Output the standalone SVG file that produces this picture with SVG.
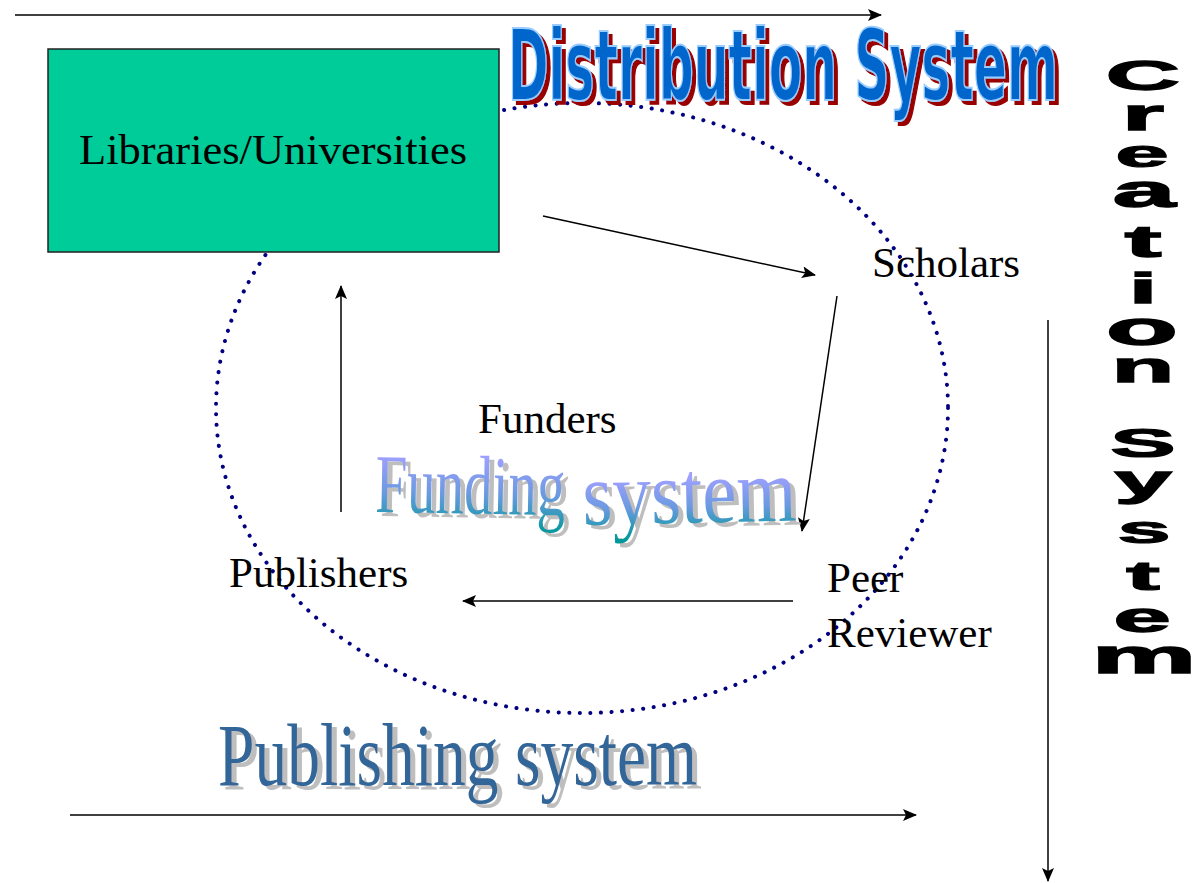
<svg xmlns="http://www.w3.org/2000/svg" width="1203" height="883" viewBox="0 0 1203 883">
<style>
.lbl{font-family:"Liberation Serif","Times New Roman",serif;font-size:43px;fill:#000}
.conn{stroke:#000;stroke-width:1.5;fill:none}
.cs{font-family:"Liberation Sans",Arial,sans-serif;font-weight:900;font-size:30px;fill:#000;stroke:#000;stroke-width:0.9;text-anchor:middle}
.wa{font-family:"Liberation Serif","Times New Roman",serif}
.ds{font-family:"Liberation Sans Narrow","DejaVu Sans Condensed","Liberation Sans",sans-serif;font-weight:bold;font-size:54px}
</style>
<defs>
<marker id="ah" markerUnits="userSpaceOnUse" markerWidth="14" markerHeight="12" refX="13" refY="6" orient="auto">
<path d="M0,0 L14,6 L0,12 L3,6 Z" fill="#000"/>
</marker>
<linearGradient id="fundGrad" gradientUnits="userSpaceOnUse" x1="0" y1="-36" x2="0" y2="12">
<stop offset="0" stop-color="#A0A0FF"/>
<stop offset="0.5" stop-color="#6A9AE0"/>
<stop offset="1" stop-color="#009999"/>
</linearGradient>
<filter id="shRed" x="-5%" y="-20%" width="115%" height="150%">
<feOffset in="SourceAlpha" dx="4" dy="4" result="o"/>
<feFlood flood-color="#990000"/>
<feComposite in2="o" operator="in" result="s"/>
<feMerge><feMergeNode in="s"/><feMergeNode in="SourceGraphic"/></feMerge>
</filter>
<filter id="shGrey" x="-5%" y="-20%" width="115%" height="150%">
<feOffset in="SourceAlpha" dx="5" dy="4" result="o"/>
<feFlood flood-color="#BEBEBE"/>
<feComposite in2="o" operator="in" result="s"/>
<feMerge><feMergeNode in="s"/><feMergeNode in="SourceGraphic"/></feMerge>
</filter>
</defs>
<rect width="1203" height="883" fill="#fff"/>

<g id="cycle">
<ellipse cx="582" cy="408" rx="366" ry="305" fill="none" stroke="#000080" stroke-width="4" stroke-dasharray="0.1 10.5" stroke-linecap="round"/>
</g>

<g id="connectors">
<line class="conn" x1="15" y1="15" x2="881" y2="15" marker-end="url(#ah)"/>
<line class="conn" x1="70" y1="815" x2="916" y2="815" marker-end="url(#ah)"/>
<line class="conn" x1="1048" y1="320" x2="1048" y2="881" marker-end="url(#ah)"/>
<line class="conn" x1="543" y1="216" x2="815" y2="275" marker-end="url(#ah)"/>
<line class="conn" x1="837" y1="296" x2="802" y2="531" marker-end="url(#ah)"/>
<line class="conn" x1="793" y1="601" x2="463" y2="601" marker-end="url(#ah)"/>
<line class="conn" x1="341" y1="512" x2="341" y2="286" marker-end="url(#ah)"/>
</g>

<g id="libraries">
<rect x="48" y="49" width="451" height="203" fill="#00CC99" stroke="#222" stroke-width="1.5"/>
<text class="lbl" x="79" y="164" textLength="388" lengthAdjust="spacingAndGlyphs">Libraries/Universities</text>
</g>
<g id="scholars"><text class="lbl" x="872" y="277">Scholars</text></g>
<g id="peer-reviewer"><text class="lbl" x="827" y="592">Peer</text><text class="lbl" x="827" y="647">Reviewer</text></g>
<g id="publishers"><text class="lbl" x="229" y="587">Publishers</text></g>
<g id="funders"><text class="lbl" x="478" y="433">Funders</text></g>

<g id="distribution-system" filter="url(#shRed)">
<text class="ds" transform="translate(508,100) scale(1,1.815)" x="0" y="0" fill="#0066CC" stroke="#99CCFF" stroke-width="1.1" textLength="550" lengthAdjust="spacingAndGlyphs">Distribution System</text>
</g>

<g id="funding-system" filter="url(#shGrey)">
<text class="wa" transform="translate(375,512) rotate(1) scale(1,1.61)" x="0" y="0" font-size="52" fill="url(#fundGrad)" textLength="190" lengthAdjust="spacingAndGlyphs">Funding</text>
<text class="wa" transform="translate(583,525) rotate(-1.2) scale(1,1.29)" x="0" y="0" font-size="70" fill="url(#fundGrad)" textLength="214" lengthAdjust="spacingAndGlyphs">system</text>
</g>

<g id="publishing-system" filter="url(#shGrey)">
<text class="wa" transform="translate(218,785) scale(1,1.343)" x="0" y="0" font-size="65.5" fill="#336699" textLength="479" lengthAdjust="spacingAndGlyphs">Publishing system</text>
</g>

<g id="creation-system">
<text class="cs" transform="translate(1143,90) scale(3.43,1.4)">C</text>
<text class="cs" transform="translate(1143,130) scale(3.59,1.467)">r</text>
<text class="cs" transform="translate(1142,167) scale(3.185,1.3)">e</text>
<text class="cs" transform="translate(1144,207) scale(3.757,1.533)">a</text>
<text class="cs" transform="translate(1143,257) scale(3.675,1.5)">t</text>
<text class="cs" transform="translate(1143,303) scale(3.43,1.4)">i</text>
<text class="cs" transform="translate(1142,345) scale(3.92,1.6)">o</text>
<text class="cs" transform="translate(1143,382) scale(3.43,1.4)">n</text>
<text class="cs" transform="translate(1143,457) scale(3.267,1.333)">S</text>
<text class="cs" transform="translate(1143,495) scale(3.43,1.4)">y</text>
<text class="cs" transform="translate(1144,543) scale(3.185,1.3)">s</text>
<text class="cs" transform="translate(1143,590) scale(3.348,1.367)">t</text>
<text class="cs" transform="translate(1142,632) scale(3.43,1.4)">e</text>
<text class="cs" transform="translate(1144,673) scale(3.92,1.6)">m</text>
</g>
</svg>
